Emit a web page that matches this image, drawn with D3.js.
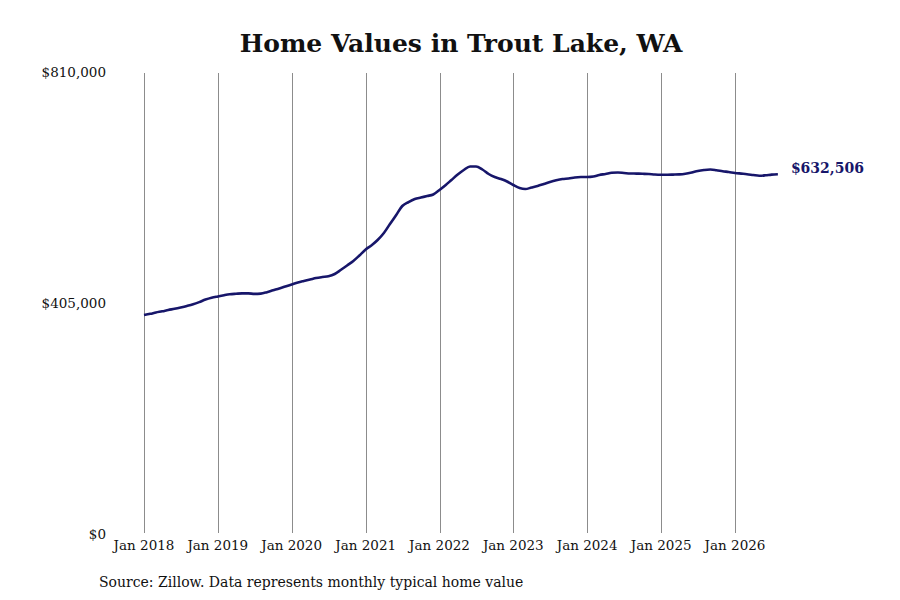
<!DOCTYPE html>
<html>
<head>
<meta charset="utf-8">
<script src="https://cdn.jsdelivr.net/npm/d3@7"></script>
<style>
  body { margin: 0; background: #fff; }
  text { font-family: "DejaVu Serif", serif; }
</style>
</head>
<body>
<div id="vis"></div>
<script>
// chart data (monthly, Jan 2018 - Aug 2026)
var startMonth = '2018-01';
var values = [
  385700, 387800, 390100, 392200, 394500, 396600, 398900, 401500, 404500, 408300, 412800, 416000,
  418300, 420400, 422000, 422900, 423600, 423600, 422700, 423200, 425800, 429000, 432200, 435700,
  439200, 442700, 445300, 447900, 450600, 452300, 453600, 457600, 465000, 472500, 480400, 490000,
  500500, 508400, 517200, 529500, 545200, 561000, 576800, 583800, 589100, 591700, 594300, 597000,
  604900, 613600, 622400, 632000, 639900, 646100, 646100, 640800, 632900, 627600, 624100, 619800,
  613600, 608400, 606600, 609200, 611900, 615400, 618900, 621900, 624100, 625000, 626800, 627600,
  627600, 628500, 631200, 632900, 635000, 635500, 634700, 633800, 633600, 633300, 632900, 632000,
  631700, 631700, 631900, 632200, 633300, 635500, 638200, 639900, 640800, 639600, 637800, 636400,
  634700, 633600, 632600, 631200, 629900, 630600, 631800, 632506
];
var yTicks = [0, 405000, 810000];
var xTickYears = [2018, 2019, 2020, 2021, 2022, 2023, 2024, 2025, 2026];

var title = 'Home Values in Trout Lake, WA';
var source = 'Source: Zillow. Data represents monthly typical home value';

// svg properties
var svgWidth = 900;
var svgHeight = 600;

var svg = d3.select('#vis').append('svg')
  .attr('width', svgWidth)
  .attr('height', svgHeight);

svg.append('rect')
  .attr('width', svgWidth)
  .attr('height', svgHeight)
  .attr('fill', 'white');

// turn the month index into dates
var parseMonth = d3.timeParse('%Y-%m');
var start = parseMonth(startMonth);
var data = values.map(function (v, i) {
  return {date: d3.timeMonth.offset(start, i), value: v};
});

// scales
var xScale = d3.scaleTime()
  .domain([new Date(2018, 0, 1), new Date(2026, 0, 1)])
  .range([144, 735]);
var yScale = d3.scaleLinear()
  .domain([0, 810000])
  .range([535, 73]);

var lineColor = '#17166a';

// title
svg.append('text')
  .attr('x', 461)
  .attr('y', 52)
  .attr('text-anchor', 'middle')
  .attr('font-size', '25px')
  .attr('font-weight', 'bold')
  .attr('fill', '#111')
  .text(title);

// vertical gridlines at each January
var xTicks = xTickYears.map(function (y) { return new Date(y, 0, 1); });
svg.selectAll('.grid')
  .data(xTicks)
  .enter().append('line')
  .attr('class', 'grid')
  .attr('x1', function (d) { return Math.round(xScale(d)) + 0.5; })
  .attr('x2', function (d) { return Math.round(xScale(d)) + 0.5; })
  .attr('y1', yScale(810000))
  .attr('y2', 533)
  .attr('stroke', '#8c8c8c')
  .attr('stroke-width', 1);

// x labels
svg.selectAll('.xLabel')
  .data(xTicks)
  .enter().append('text')
  .attr('class', 'xLabel')
  .attr('x', function (d) { return xScale(d); })
  .attr('y', 550)
  .attr('text-anchor', 'middle')
  .attr('font-size', '13.5px')
  .attr('fill', '#111')
  .text(d3.timeFormat('Jan %Y'));

// y labels
var fmt = d3.format('$,');
svg.selectAll('.yLabel')
  .data(yTicks)
  .enter().append('text')
  .attr('class', 'yLabel')
  .attr('x', 106)
  .attr('y', function (d) { return yScale(d); })
  .attr('dy', '0.3em')
  .attr('text-anchor', 'end')
  .attr('font-size', '13.5px')
  .attr('fill', '#111')
  .text(fmt);

// the line
var makeLine = d3.line()
  .curve(d3.curveMonotoneX)
  .x(function (d) { return xScale(d.date); })
  .y(function (d) { return yScale(d.value); });

svg.append('path')
  .datum(data)
  .attr('d', makeLine)
  .attr('fill', 'none')
  .attr('stroke', lineColor)
  .attr('stroke-width', 2.6)
  .attr('stroke-linejoin', 'round');

// last value label
var last = data[data.length - 1];
svg.append('text')
  .attr('x', xScale(last.date) + 13)
  .attr('y', yScale(last.value) - 6)
  .attr('dy', '0.35em')
  .attr('font-size', '14px')
  .attr('font-weight', 'bold')
  .attr('fill', lineColor)
  .text(fmt(last.value));

// source
svg.append('text')
  .attr('x', 99)
  .attr('y', 587)
  .attr('font-size', '14px')
  .attr('fill', '#111')
  .text(source);
</script>
</body>
</html>
